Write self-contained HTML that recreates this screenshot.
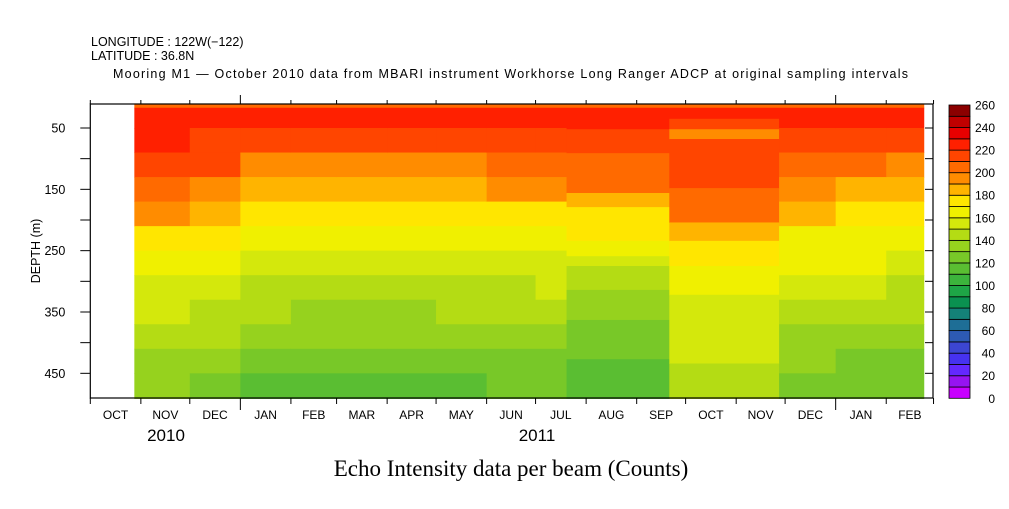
<!DOCTYPE html>
<html><head><meta charset="utf-8"><style>
body{margin:0;background:#fff;}
svg text{font-family:"Liberation Sans",sans-serif;fill:#000;}
</style></head><body>
<svg id="chart" width="1009" height="504" viewBox="0 0 1009 504" xmlns="http://www.w3.org/2000/svg">
<text x="91" y="46" font-size="12.5">LONGITUDE : 122W(−122)</text>
<text x="91" y="60" font-size="12.5">LATITUDE : 36.8N</text>
<text x="113" y="78" font-size="12.5" textLength="795">Mooring M1 — October 2010 data from MBARI instrument Workhorse Long Ranger ADCP at original sampling intervals</text>
<g id="cells"></g>
<g id="axes"></g>
<g id="cbar"></g>
<text transform="translate(40,251) rotate(-90)" text-anchor="middle" font-size="12.5">DEPTH (m)</text>
<text x="166" y="441" text-anchor="middle" font-size="17">2010</text>
<text x="537" y="441" text-anchor="middle" font-size="17">2011</text>
<text x="511" y="476" text-anchor="middle" font-size="23" style="font-family:'Liberation Serif',serif">Echo Intensity data per beam (Counts)</text>
</svg>
<script>
// ---- data ----
const levels=[0,10,20,30,40,50,60,70,80,90,100,110,120,130,140,150,160,170,180,190,200,210,220,230,240,250,260];
const levelColors=["#c800ff","#9614f0","#6428ff","#4632f0","#3c46d2","#2d5ab4","#1e6e96","#148278","#0a9150","#1ea546","#3cb43c","#5abe32","#78c828","#96d21e","#b4dc14","#d4e80c","#f0f000","#ffe600","#ffb400","#ff8c00","#ff6a00","#ff4500","#ff2000","#e80000","#c00000","#8b0000"];
const cbarTicks=[0,20,40,60,80,100,120,140,160,180,200,220,240,260];
const depthTicks=[50,100,150,200,250,300,350,400,450];
const depthLabels=["50","","150","","250","","350","","450"];
const monthTicks=[0,31,61,92,123,151,182,212,243,273,304,335,365,396,426,457,488,517];
const monthNames=["OCT","NOV","DEC","JAN","FEB","MAR","APR","MAY","JUN","JUL","AUG","SEP","OCT","NOV","DEC","JAN","FEB"];
// noisy segments: days since 1 Oct 2010, profile at depth bins
const profileDepths=[10,17,50,90,130,170,210,250,290,330,370,410,450,491];
const segStarts=[27,61,92,123,151,182,212,243,273,422,457,488];
const segEnds=[61,92,123,151,182,212,243,273,292,457,488,511];
const segProfiles=[
[205,225,220,212,205,190,175,165,158,150,145,138,132],
[205,225,218,210,198,185,172,163,155,148,140,132,125],
[205,222,212,195,182,172,165,155,148,140,132,125,118],
[205,222,212,192,180,172,165,152,145,138,130,122,117],
[205,222,212,195,180,172,165,152,145,138,130,122,117],
[205,222,212,192,180,172,165,152,145,138,130,122,117],
[205,222,212,195,182,172,165,155,147,140,132,124,118],
[205,225,218,205,192,178,168,155,148,140,132,125,120],
[205,225,218,205,190,178,168,158,150,142,135,128,123],
[205,222,215,205,192,180,168,160,152,145,138,130,125],
[205,222,212,200,185,175,168,160,150,142,135,128,122],
[205,220,210,195,182,175,165,155,148,140,132,126,120]];
// block (sparse sampled) segments
const blockA={start:292,end:355,edges:[10,17,52,91,156,179,234,259,275,314,363,427,491],values:[205,225,215,205,185,175,165,155,145,135,125,115]};
const blockB={start:355,end:422,edges:[10,17,35,52,68,148,204,234,275,322,434,491],values:[205,225,215,195,215,205,185,175,165,155,145]};

// ---- scales ----
const X0=90.3,PXD=1.631;
const xDay=d=>X0+d*PXD;
const yDepth=d=>128+(d-50)*0.6133;
const colorFor=v=>{for(let i=levelColors.length-1;i>=0;i--){if(v>=levels[i])return levelColors[i];}return levelColors[0];};
const NS="http://www.w3.org/2000/svg";
function mk(tag,attrs,parent){const e=document.createElementNS(NS,tag);for(const k in attrs)e.setAttribute(k,attrs[k]);parent.appendChild(e);return e;}

const cells=document.getElementById('cells');
segStarts.forEach((s,i)=>{
  const prof=segProfiles[i];
  for(let j=0;j<prof.length;j++){
    const y1=yDepth(profileDepths[j]),y2=yDepth(profileDepths[j+1]);
    const r=mk('rect',{x:xDay(s),y:y1,width:xDay(segEnds[i])-xDay(s)+0.5,height:y2-y1+0.5,fill:colorFor(prof[j])},cells);
    
    
  }
});
[blockA,blockB].forEach(b=>{
  b.values.forEach((v,j)=>{
    const y1=yDepth(b.edges[j]),y2=yDepth(b.edges[j+1]);
    const r=mk('rect',{x:xDay(b.start),y:y1,width:xDay(b.end)-xDay(b.start)+0.5,height:y2-y1+0.5,fill:colorFor(v)},cells);
    
    
  });
});

// ---- axes ----
const ax=document.getElementById('axes');
const L=90.3,R=933,T=104,B=398;
const frame=mk('rect',{x:L,y:T,width:R-L,height:B-T,fill:'none',stroke:'#000','stroke-width':1.2},ax);


depthTicks.forEach((d,i)=>{
  const y=yDepth(d);
  mk('line',{x1:L-10,x2:L,y1:y,y2:y,stroke:'#000'},ax);
  mk('line',{x1:R,x2:R-8,y1:y,y2:y,stroke:'#000'},ax);
  if(depthLabels[i]){
    const t=mk('text',{x:L-25,y:y+4.5,'text-anchor':'end','font-size':12.5},ax);
    t.textContent=depthLabels[i];
    
    
  }
});
monthTicks.forEach((d,i)=>{
  const x=xDay(d);
  const big=(d===92||d===457);
  mk('line',{x1:x,x2:x,y1:B,y2:B+(big?12:6),stroke:'#000'},ax);
  mk('line',{x1:x,x2:x,y1:T,y2:T-(big?9:4),stroke:'#000'},ax);
});
monthNames.forEach((n,i)=>{
  const x=(xDay(monthTicks[i])+xDay(monthTicks[i+1]))/2;
  const t=mk('text',{x:x,y:419,'text-anchor':'middle','font-size':12},ax);
  t.textContent=n;
  
  
});

// ---- colorbar ----
const cb=document.getElementById('cbar');
const CX=949,CW=21,CT=105,CB=398.3;
const vy=v=>CB-(v/260)*(CB-CT);
levelColors.forEach((c,i)=>{
  const r=mk('rect',{x:CX,y:vy(levels[i+1]),width:CW,height:vy(levels[i])-vy(levels[i+1]),fill:c,stroke:'#000','stroke-width':0.8},cb);
  
  
});
cbarTicks.forEach(v=>{
  const t=mk('text',{x:995,y:vy(v)+4.5,'text-anchor':'end','font-size':12},cb);
  t.textContent=v;
  
  
});
</script>
</body></html>
